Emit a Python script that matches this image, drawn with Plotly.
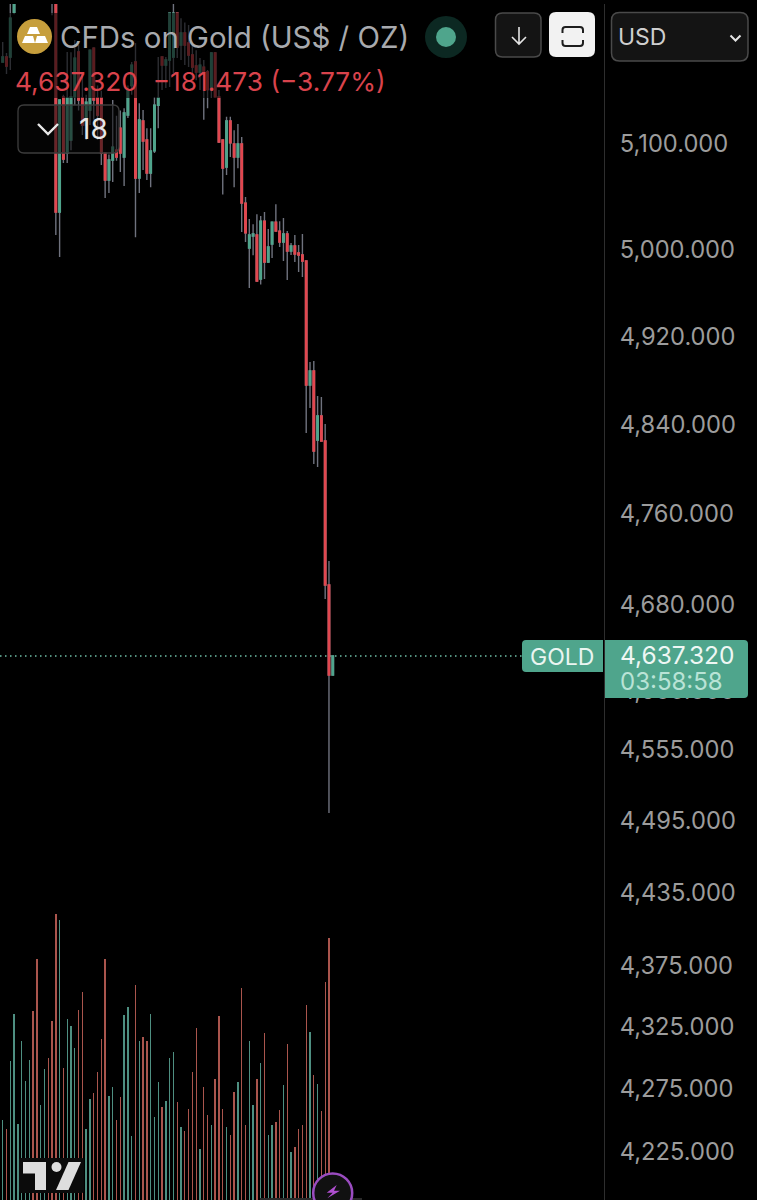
"""
Gold CFD candlestick screenshot rebuilt with Plotly (mobile chart look).
"""

import math
import re

import plotly.graph_objects as go

W, H = 757, 1200
UP_COLOR = "#4fa58c"
DOWN_COLOR = "#e2474f"
WICK_COLOR = "#6f727e"
VOL_UP = "#4e8f81"
VOL_DOWN = "#aa554d"
FONT = "Inter"

# candles, oldest first (the ones from index 3 to 13 sit above the visible window)
opens = [5178.6, 5183.4, 5183.4, 5227, 5250, 5265, 5285, 5296, 5310, 5298,
         5272, 5284, 5293, 5274, 5250, 5035.5, 5145, 5091.4, 5103.8, 5145,
         5188.3, 5144, 5118, 5132.4, 5192, 5144, 5144, 5091.4, 5065.7, 5084.7,
         5094, 5115, 5087.5, 5127.6, 5156, 5178.6, 5067.7, 5122, 5103.8, 5072.4,
         5093.4, 5137, 5183.4, 5175.6, 5180.5, 5183.4, 5226, 5195, 5206.7, 5197,
         5185.4, 5174.7, 5169, 5173.7, 5169, 5151.6, 5187.3, 5145, 5103.8, 5078,
         5122, 5100, 5087.5, 5100, 5044, 5001.9, 5013, 5014, 4973, 5027,
         4988.8, 5005.6, 5026, 5017.7, 5007.5, 5015, 4999, 5003.7, 4997.2, 4995.3,
         4989.7, 4875.5, 4888.3, 4825.7, 4847.4, 4824.8, 4696.9, 4618.6]
highs = [5197.9, 5187.3, 5235, 5258, 5272, 5292, 5304, 5318, 5322, 5304,
         5291, 5300, 5298, 5279, 5262, 5142, 5147, 5188.3, 5188, 5200,
         5195, 5166, 5147, 5190, 5193, 5156, 5151, 5091.4, 5090, 5142,
         5127, 5132, 5134, 5156, 5178.6, 5197, 5139, 5132.4, 5115, 5115,
         5145, 5183.4, 5183.4, 5183.4, 5226, 5235, 5226, 5221, 5217, 5214.5,
         5197, 5190, 5182.4, 5180.5, 5170.8, 5188.3, 5188.3, 5151.6, 5103.8, 5126,
         5126, 5113, 5119, 5106.6, 5049.7, 5029, 5024, 5033.6, 5031.8, 5035.5,
         5019.6, 5026, 5043, 5027, 5030, 5017.7, 5006.5, 5014, 5004.7, 5015,
         4989.7, 4896.5, 4897.4, 4865.6, 4864.7, 4840.2, 4717.9, 4635]
lows = [5178, 5167, 5170.8, 5225, 5245, 5260, 5278, 5290, 5292, 5265,
        5266, 5278, 5268, 5224, 5014, 4993.5, 5082, 5082, 5094, 5137,
        5132, 5108.5, 5103.8, 5118, 5123, 5104, 5080, 5048.8, 5053.4, 5063.8,
        5084, 5073.4, 5060, 5124.8, 5147, 5012, 5053.4, 5075.3, 5065.7, 5059,
        5091.4, 5115, 5151.6, 5153.5, 5154.5, 5168, 5182.4, 5180.5, 5175.6, 5173.7,
        5163, 5161, 5151.6, 5123, 5134, 5144, 5145, 5101, 5052, 5070.5,
        5087.5, 5059, 5077, 5016.8, 5007.5, 4964.6, 4995, 4971, 4968, 4973,
        4988, 4992.5, 5017.7, 5002.8, 4989.7, 4972, 4995.3, 4988.8, 4979.5, 4974.8,
        4832, 4854.6, 4804.2, 4801.5, 4824.8, 4684.6, 4501.1, 4618.6]
closes = [5183.4, 5174.7, 5221.2, 5250, 5265, 5285, 5296, 5310, 5298, 5272,
          5284, 5293, 5274, 5250, 5035.5, 5142, 5085.6, 5144, 5145, 5182.4,
          5142, 5118, 5140, 5190, 5142, 5127.6, 5091, 5065.7, 5084.7, 5097,
          5087.5, 5091.4, 5129.5, 5151.6, 5175.6, 5067.7, 5122.9, 5102.8, 5072.4, 5093.4,
          5137, 5144, 5175.6, 5180.5, 5226, 5226, 5193, 5206.7, 5195, 5185.4,
          5173.7, 5169, 5175.6, 5168.9, 5152, 5187.3, 5145, 5101.9, 5077, 5122,
          5101, 5087.5, 5100, 5044, 5016, 5014, 5015, 4971, 5027, 4988.8,
          5002.8, 5026, 5017.7, 5007.5, 5015, 4999, 5003.7, 4996.3, 4995.3, 4989.7,
          4875.5, 4888.3, 4815.8, 4847.4, 4824.8, 4696.9, 4618.6, 4635]

# volume pane, same candle order (the forming candle has no visible bar)
volumes = [80, 71, 139, 186, 76, 159, 119, 140, 189, 241,
           95, 131, 142, 179, 286, 280, 132, 181, 174, 152,
           190, 208, 71, 101, 107, 128, 161, 241, 104, 113,
           80, 103, 185, 193, 64, 215, 159, 163, 159, 186,
           83, 118, 93, 99, 142, 148, 98, 73, 69, 91,
           128, 172, 51, 113, 85, 75, 121, 184, 91, 73,
           65, 108, 118, 212, 75, 159, 95, 121, 137, 167,
           65, 75, 78, 90, 115, 156, 48, 53, 71, 75,
           195, 168, 125, 116, 89, 218, 262]

price_ticks = [5100, 5000, 4920, 4840, 4760, 4680, 4605, 4555, 4495, 4435, 4375, 4325, 4275, 4225]
last_price = 4635.0


def px(x):
    return x / W


def py(y):
    return 1 - y / H


def to_paper(path):
    """Turn an SVG path written in screenshot pixels into paper coordinates."""
    out = []
    is_x = True
    for tok in re.findall(r"[MLQZ]|-?[\d.]+", path):
        if tok in "MLQZ":
            out.append(tok)
            is_x = True
        else:
            out.append(f"{px(float(tok)):.5f}" if is_x else f"{py(float(tok)):.5f}")
            is_x = not is_x
    return " ".join(out)


def add_path(fig, path, fill=None, line=None, width=0):
    fig.add_shape(
        type="path", path=to_paper(path), xref="paper", yref="paper", layer="above",
        fillcolor=fill or "rgba(0,0,0,0)",
        line=dict(color=line or "rgba(0,0,0,0)", width=width),
    )


def rrect(x0, y0, x1, y1, r, left=True, right=True):
    rl = r if left else 0
    rr = r if right else 0
    return (f"M {x0 + rl} {y0} L {x1 - rr} {y0} Q {x1} {y0} {x1} {y0 + rr} "
            f"L {x1} {y1 - rr} Q {x1} {y1} {x1 - rr} {y1} L {x0 + rl} {y1} "
            f"Q {x0} {y1} {x0} {y1 - rl} L {x0} {y0 + rl} Q {x0} {y0} {x0 + rl} {y0} Z")


def circle(fig, cx, cy, r, fill, line=None, width=0):
    fig.add_shape(
        type="circle", xref="paper", yref="paper", layer="above",
        x0=px(cx - r), x1=px(cx + r), y0=py(cy + r), y1=py(cy - r),
        fillcolor=fill, line=dict(color=line or "rgba(0,0,0,0)", width=width),
    )


def label(fig, x, y, text, size, color, anchor="left"):
    fig.add_annotation(
        x=px(x), y=py(y), xref="paper", yref="paper", text=text, showarrow=False,
        xanchor=anchor, yanchor="middle",
        font=dict(family=FONT, size=size, color=color),
    )


xs = list(range(len(opens)))
colors = [VOL_UP if c >= o else VOL_DOWN for c, o in zip(closes, opens)]

fig = go.Figure()

fig.add_trace(go.Bar(
    x=xs[:len(volumes)], y=volumes, yaxis="y2", width=0.36,
    marker=dict(color=colors[:len(volumes)], line=dict(width=0)), showlegend=False,
))
# wicks first, the coloured bodies go on top of them
fig.add_trace(go.Candlestick(
    x=xs, open=opens, high=highs, low=lows, close=closes,
    increasing=dict(line=dict(color=WICK_COLOR, width=1.4), fillcolor=WICK_COLOR),
    decreasing=dict(line=dict(color=WICK_COLOR, width=1.4), fillcolor=WICK_COLOR),
    whiskerwidth=0, showlegend=False,
))
fig.add_trace(go.Candlestick(
    x=xs, open=opens, close=closes,
    high=[max(o, c) for o, c in zip(opens, closes)],
    low=[min(o, c) for o, c in zip(opens, closes)],
    increasing=dict(line=dict(color=UP_COLOR, width=1.4), fillcolor=UP_COLOR),
    decreasing=dict(line=dict(color=DOWN_COLOR, width=1.4), fillcolor=DOWN_COLOR),
    whiskerwidth=0, showlegend=False,
))

fig.update_layout(
    width=W, height=H, margin=dict(l=0, r=0, t=0, b=0),
    paper_bgcolor="#000000", plot_bgcolor="#000000",
    showlegend=False, boxmode="overlay", boxgap=0.45, bargap=0,
    xaxis=dict(
        domain=[0, 603.5 / W], range=[-0.712, 158.36], visible=False,
        rangeslider=dict(visible=False), fixedrange=True,
    ),
    yaxis=dict(
        domain=[0, 1196 / H], type="log", side="right",
        range=[math.log10(4187.4), math.log10(5235.0)],
        tickvals=price_ticks, ticktext=[f"{v:,.3f}" for v in price_ticks],
        tickfont=dict(family=FONT, size=23.7, color="#9c9c9c"),
        ticks="", ticklabelstandoff=10, showgrid=False, zeroline=False,
        showline=True, linecolor="#2e2e2e", linewidth=1.5,
    ),
    yaxis2=dict(
        domain=[0, 1196 / H], overlaying="y", range=[0, 1196], visible=False,
    ),
)

# last price line
fig.add_shape(
    type="line", xref="paper", yref="y", layer="below",
    x0=0, x1=522 / 603.5, y0=last_price, y1=last_price,
    line=dict(color="#6fc0a8", width=1.5, dash="1.5px,3.5px"),
)

# dimmed strip behind the legend rows
add_path(fig, "M 0 13 L 390 13 L 390 98 L 0 98 Z", fill="rgba(0,0,0,0.6)")

# gold icon
circle(fig, 34.5, 36.5, 17.5, "#c69e3c")
add_path(fig, "M 30 27 L 37 27 L 40 34 L 27 34 Z", fill="#ffffff")
add_path(fig, "M 25 36 L 33 36 L 35 43 L 22 43 Z", fill="#ffffff")
add_path(fig, "M 37 36 L 45 36 L 48 43 L 35 43 Z", fill="#ffffff")

label(fig, 58, 37, "CFDs on Gold (US$ / OZ)", 29.4, "#a8aaae")
label(fig, 13, 81, "4,637.320  −181.473 (−3.77%)", 26.3, "#d9434c")

# market status dot
circle(fig, 446, 37, 21, "#0c2822")
circle(fig, 446, 37, 10, UP_COLOR)

# collapse box
add_path(fig, rrect(18, 105, 119, 153, 6), fill="rgba(8,8,8,0.55)", line="#3d3d3d", width=1.3)
add_path(fig, "M 38 124 L 48 134 L 58 124", line="#e8e8e8", width=2.4)
label(fig, 77, 129, "18", 28, "#e6e6e6")

# header buttons
add_path(fig, rrect(495.5, 13, 541, 57, 7), fill="#141414", line="#4a4a4a", width=1.5)
add_path(fig, "M 519 27 L 519 44 M 512 37 L 519 44 L 526 37", line="#e4e4e4", width=1.6)
add_path(fig, rrect(549, 12, 595, 57, 7), fill="#f2f2f2")
add_path(fig, "M 562.5 33 L 562.5 30 Q 562.5 27 565.5 27 L 580 27 Q 583 27 583 30 L 583 33",
         line="#1e1e1e", width=2)
add_path(fig, "M 562.5 40 L 562.5 43 Q 562.5 46 565.5 46 L 580 46 Q 583 46 583 43 L 583 40",
         line="#1e1e1e", width=2)
add_path(fig, rrect(611.5, 12.5, 748, 61, 8), fill="#141414", line="#4a4a4a", width=1.5)
label(fig, 616, 37, "USD", 23, "#cfcfcf")
add_path(fig, "M 730.5 35.5 L 735.5 40.5 L 740.5 35.5", line="#e4e4e4", width=2)

# price labels
add_path(fig, rrect(522, 640, 603, 672, 4, right=False), fill=UP_COLOR)
label(fig, 528, 656.5, "GOLD", 23, "#eaf5f1")
add_path(fig, rrect(605, 640, 748, 698, 4, left=False), fill=UP_COLOR)
label(fig, 618, 655, "4,637.320", 24.5, "#eef7f4")
label(fig, 618, 681, "03:58:58", 24, "#b9e3d6")

# watermark logo
add_path(fig, rrect(19, 1158, 84, 1193, 2), fill="#0b0b0b")
add_path(fig, "M 23 1162 L 46 1162 L 46 1190 L 35 1190 L 35 1173.5 L 23 1173.5 Z", fill="#dedede")
circle(fig, 56.5, 1167, 5, "#dedede")
add_path(fig, "M 68.5 1162 L 81 1162 L 68.5 1190 L 56 1190 Z", fill="#dedede")

# bottom bar and bolt badge
add_path(fig, "M 260 1198 L 362 1198 L 362 1200 L 260 1200 Z", fill="#2a2a2a")
circle(fig, 332.7, 1193, 19.5, "#111111", line="#9a4cc0", width=2.5)
add_path(fig, "M 336.7 1185 L 326.7 1192.7 L 332.7 1192.7 L 327.3 1198.3 L 340 1190.7 L 334 1190.7 Z",
         fill="#b04fd0")

fig.write_html(
    "out.html",
    config=dict(displayModeBar=False, staticPlot=True),
    post_script="document.body.style.margin='0';document.body.style.background='#000';",
)
